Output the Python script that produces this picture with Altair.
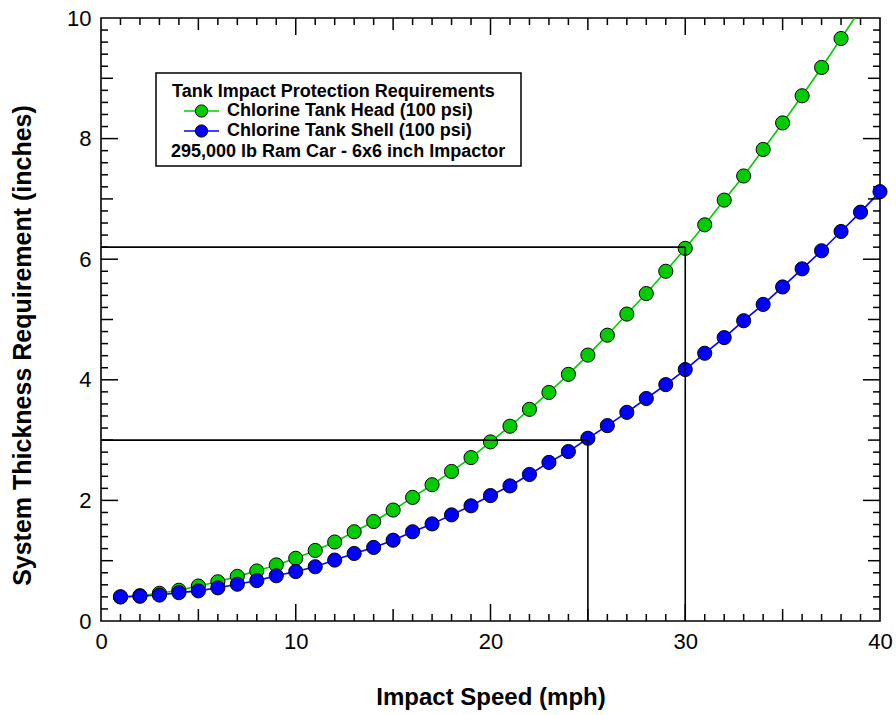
import altair as alt
import pandas as pd

HEAD = "Chlorine Tank Head (100 psi)"
SHELL = "Chlorine Tank Shell (100 psi)"
LEGEND_TITLE = "Tank Impact Protection Requirements"
LEGEND_NOTE = "295,000 lb Ram Car - 6x6 inch Impactor"

# Required system thickness (inches) vs. impact speed (mph)
speed_head = list(range(1, 40))
head_in = [0.40, 0.42, 0.46, 0.51, 0.58, 0.65, 0.74, 0.83, 0.93, 1.04,
           1.17, 1.31, 1.48, 1.65, 1.84, 2.05, 2.26, 2.48, 2.71, 2.97,
           3.23, 3.51, 3.79, 4.09, 4.41, 4.74, 5.09, 5.43, 5.80, 6.18,
           6.57, 6.98, 7.38, 7.82, 8.26, 8.71, 9.18, 9.66, 10.15]
speed_shell = list(range(1, 41))
shell_in = [0.40, 0.41, 0.43, 0.47, 0.50, 0.55, 0.61, 0.67, 0.75, 0.82,
            0.90, 1.01, 1.12, 1.22, 1.34, 1.48, 1.61, 1.76, 1.91, 2.08,
            2.24, 2.43, 2.63, 2.81, 3.03, 3.24, 3.46, 3.69, 3.92, 4.17,
            4.44, 4.70, 4.98, 5.25, 5.54, 5.84, 6.14, 6.46, 6.78, 7.12]

# Design points marked with guide lines
ref_speed = [25, 30]
ref_thickness = [3.0, 6.2]

# Axis tick positions (minor / intermediate / major)
x_minor = [v for v in range(1, 40) if v % 5 != 0]
x_mid = [5, 15, 25, 35]
x_major = [10, 20, 30]
y_minor = [round(k * 0.2, 1) for k in range(1, 50) if k % 5 != 0]
y_mid = [1, 3, 5, 7, 9]
y_major = [2, 4, 6, 8]
x_labels = [0, 10, 20, 30, 40]
y_labels = [0, 2, 4, 6, 8, 10]

series_colors = ["#00cc00", "#0000ff"]

FONT = "Liberation Sans"
W, H = 779, 603
X_MAX, Y_MAX = 40, 10
TICK_LEN = {"minor": 7, "mid": 12, "major": 17}

# Curves and frame ticks share one table; each tick is a two-point segment
rows = []
for s, xs, ys in [(HEAD, speed_head, head_in), (SHELL, speed_shell, shell_in)]:
    for sp, th in zip(xs, ys):
        rows.append(("curve", s, sp, th))

n = 0
for kind, vals in [("minor", x_minor), ("mid", x_mid), ("major", x_major)]:
    d = TICK_LEN[kind] * Y_MAX / H
    for v in vals:
        for y0, y1 in [(0, d), (Y_MAX, Y_MAX - d)]:
            rows.append(("tick", f"t{n}", v, y0))
            rows.append(("tick", f"t{n}", v, y1))
            n += 1
for kind, vals in [("minor", y_minor), ("mid", y_mid), ("major", y_major)]:
    d = TICK_LEN[kind] * X_MAX / W
    for v in vals:
        for x0, x1 in [(0, d), (X_MAX, X_MAX - d)]:
            rows.append(("tick", f"t{n}", x0, v))
            rows.append(("tick", f"t{n}", x1, v))
            n += 1

df = pd.DataFrame(rows, columns=["kind", "series", "speed", "thickness"])
refs = pd.DataFrame({"speed": ref_speed, "thickness": ref_thickness})
one = pd.DataFrame({"k": [0]})

x_scale = alt.Scale(domain=[0, X_MAX], nice=False, zero=False)
y_scale = alt.Scale(domain=[0, Y_MAX], nice=False, zero=False)
color = alt.Color("series:N",
                  scale=alt.Scale(domain=[HEAD, SHELL], range=series_colors),
                  legend=None)

# Axis labels and titles (frame ticks are drawn as segments)
x_axis = alt.Axis(orient="bottom", values=x_labels, format="d",
                  ticks=False, domain=False, grid=False, labelFlush=False,
                  labelFont=FONT, labelFontSize=22, labelColor="black",
                  labelPadding=10, title="Impact Speed (mph)", titleFont=FONT,
                  titleFontSize=24, titleFontWeight="bold", titleColor="black",
                  titleBaseline="middle", titleY=76)
y_axis = alt.Axis(orient="left", values=y_labels, format="d",
                  ticks=False, domain=False, grid=False, labelFlush=False,
                  labelFont=FONT, labelFontSize=22, labelColor="black",
                  labelPadding=10, title="System Thickness Requirement (inches)",
                  titleFont=FONT, titleFontSize=25, titleFontWeight="bold",
                  titleColor="black", titleAngle=270, titleAlign="center",
                  titleBaseline="middle", titleX=-79, titleY=327)

base = alt.Chart(df)

lines = base.transform_filter("datum.kind == 'curve'").mark_line(
    strokeWidth=1.6, clip=True
).encode(
    x=alt.X("speed:Q", scale=x_scale, axis=x_axis),
    y=alt.Y("thickness:Q", scale=y_scale, axis=y_axis),
    color=color,
    detail="series:N",
)

tick_marks = base.transform_filter("datum.kind == 'tick'").mark_line(
    strokeWidth=1.5, color="black"
).encode(
    x=alt.X("speed:Q", scale=x_scale),
    y=alt.Y("thickness:Q", scale=y_scale),
    detail="series:N",
)

points = base.transform_filter(
    "datum.kind == 'curve' && datum.thickness <= 10"
).mark_circle(size=200, opacity=1, stroke="black", strokeWidth=1).encode(
    x=alt.X("speed:Q", scale=x_scale),
    y=alt.Y("thickness:Q", scale=y_scale),
    color=color,
)

ref_h = alt.Chart(refs).transform_calculate(zero="0").mark_rule(
    color="black", strokeWidth=1.6
).encode(
    x=alt.X("zero:Q", scale=x_scale),
    x2="speed:Q",
    y=alt.Y("thickness:Q", scale=y_scale),
)
ref_v = alt.Chart(refs).transform_calculate(zero="0").mark_rule(
    color="black", strokeWidth=1.6
).encode(
    x=alt.X("speed:Q", scale=x_scale),
    y=alt.Y("zero:Q", scale=y_scale),
    y2="thickness:Q",
)

# Legend box
legend_box = alt.Chart(one).mark_rect(
    fill="white", stroke="black", strokeWidth=1.5
).encode(x=alt.value(55), x2=alt.value(420), y=alt.value(55), y2=alt.value(148))


def legend_text(text, x, y):
    return alt.Chart(one).mark_text(
        text=text, align="left", baseline="middle", font=FONT, fontSize=18,
        fontWeight="bold", color="black"
    ).encode(x=alt.value(x), y=alt.value(y))


legend_layers = [legend_box, legend_text(LEGEND_TITLE, 71, 73.5),
                 legend_text(LEGEND_NOTE, 70, 133.5)]
for label, col, ly in [(HEAD, series_colors[0], 93), (SHELL, series_colors[1], 113)]:
    legend_layers.append(
        alt.Chart(one).mark_rule(color=col, strokeWidth=1.5).encode(
            x=alt.value(83), x2=alt.value(118), y=alt.value(ly)))
    legend_layers.append(
        alt.Chart(one).mark_point(filled=True, shape="circle", size=150, fill=col,
                                  stroke="black", strokeWidth=1, opacity=1).encode(
            x=alt.value(100.5), y=alt.value(ly)))
    legend_layers.append(legend_text(label, 126, ly))

chart = alt.layer(
    lines, tick_marks, points, ref_h, ref_v, *legend_layers
).properties(
    width=W, height=H, autosize="none",
    padding={"left": 101, "top": 18, "right": 16, "bottom": 94},
    background="white",
).configure_view(
    stroke="black", strokeWidth=1.6
)

chart.save("out.html", embed_options={"renderer": "svg", "actions": False})
